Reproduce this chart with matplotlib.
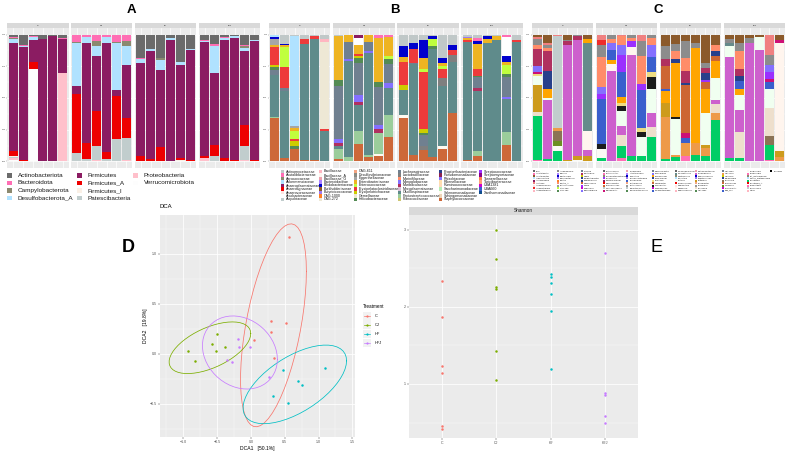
#!/usr/bin/env python3
"""Composite microbiome figure: relative-abundance bars at phylum (A), family (B)
and genus (C) level, a DCA ordination (D) and Shannon diversity (E)."""
import numpy as np
import matplotlib

matplotlib.use("Agg")
import matplotlib.pyplot as plt
from matplotlib.patches import Rectangle
from matplotlib.lines import Line2D

W, H = 787, 453
plt.rcParams["font.family"] = ["Liberation Sans", "DejaVu Sans"]

GROUPS = ["C", "CJ", "HF", "HFJ"]
GROUP_COLORS = ["#F8766D", "#7CAE00", "#00BFC4", "#C77CFF"]

# ---------------- A: phylum level (6 samples per group, order C, CJ, HF, HFJ)
PHYLA = ["Actinobacteriota", "Bacteroidota", "Campylobacterota", "Desulfobacterota_A",
         "Firmicutes", "Firmicutes_A", "Firmicutes_I", "Patescibacteria",
         "Proteobacteria", "Verrucomicrobiota"]
PHYLUM_COLORS = ["#6B6B6B", "#FF6EB4", "#8B8970", "#B0E2FF", "#8B1C62", "#EE0000",
                 "#FAF0E6", "#C1CDCD", "#FFC0CB", "#FDFDFD"]
PHYLUM_VALUES = {
    "Actinobacteriota": [0.02, 0.078, 0.008, 0.034, 0.01, 0.026, 0, 0, 0, 0, 0, 0,
                         0.182, 0.117, 0.187, 0.026, 0.216, 0.117, 0.039, 0.073, 0.018, 0.013, 0.078, 0.044],
    "Bacteroidota": [0.005, 0.008, 0.008, 0, 0, 0.008, 0.057, 0.02, 0.052, 0.016, 0.057, 0.052,
                     0.01, 0, 0, 0, 0, 0, 0.008, 0.018, 0.008, 0, 0.008, 0],
    "Campylobacterota": [0.008, 0, 0, 0, 0, 0, 0.01, 0, 0.039, 0, 0.01, 0.039,
                         0, 0, 0.013, 0, 0, 0, 0, 0, 0, 0, 0.023, 0],
    "Desulfobacterota_A": [0.036, 0.013, 0.026, 0, 0, 0, 0.34, 0.047, 0.078, 0.047, 0.37, 0.148,
                           0.029, 0.01, 0.078, 0.013, 0.026, 0.005, 0.01, 0.208, 0.018, 0.013, 0.021, 0.008],
    "Firmicutes": [0.844, 0.878, 0.174, 0.966, 0.985, 0.27, 0.06, 0.79, 0.434, 0.86, 0.05, 0.416,
                   0.735, 0.855, 0.605, 0.961, 0.727, 0.87, 0.90, 0.571, 0.927, 0.96, 0.584, 0.935],
    "Firmicutes_A": [0.04, 0.008, 0.052, 0, 0.005, 0, 0.468, 0.125, 0.275, 0.057, 0.34, 0.164,
                     0.044, 0.018, 0.117, 0, 0.018, 0.008, 0.018, 0.086, 0.029, 0.013, 0.164, 0.013],
    "Firmicutes_I": [0.01, 0, 0, 0, 0, 0, 0, 0, 0, 0, 0, 0,
                     0, 0, 0, 0, 0.01, 0, 0, 0, 0, 0, 0, 0],
    "Patescibacteria": [0.01, 0.005, 0, 0, 0, 0, 0.065, 0.018, 0.114, 0.02, 0.174, 0.169,
                        0, 0, 0, 0, 0, 0, 0, 0.044, 0, 0, 0.109, 0],
    "Proteobacteria": [0.01, 0, 0, 0, 0, 0.696, 0, 0, 0.008, 0, 0, 0.013,
                       0, 0, 0, 0, 0, 0, 0.026, 0, 0, 0, 0.013, 0],
    "Verrucomicrobiota": [0.013, 0, 0.73, 0, 0, 0, 0, 0, 0, 0, 0, 0,
                          0, 0, 0, 0, 0, 0, 0, 0, 0, 0, 0, 0],
}

# ---------------- B: family level
FAMILIES = ["Actinomycetaceae", "Acutalibacteraceae", "Aerococcaceae", "Akkermansiaceae",
            "Anaeroplasmataceae", "Anaerotignaceae", "Anaerovoracaceae", "Arcobacteraceae",
            "Atopobiaceae", "Bacillaceae", "Bacillaceae_A", "Bacillaceae_G", "Bacteroidaceae",
            "Bifidobacteriaceae", "Burkholderiaceae", "Butyricicoccaceae", "CAG-1000", "CAG-272",
            "CAG-611", "Desulfovibrionaceae", "Eggerthellaceae", "Enterobacteriaceae",
            "Enterococcaceae", "Erysipelatoclostridiaceae", "Erysipelotrichaceae", "Gemellaceae",
            "Helicobacteraceae", "Lachnospiraceae", "Lactobacillaceae", "Marinifilaceae",
            "Monoglobaceae", "Muribaculaceae", "Mycoplasmataceae", "Oscillospiraceae",
            "Peptostreptococcaceae", "Planococcaceae", "Propionibacteriaceae", "Pseudomonadaceae",
            "Rhizobiaceae", "Rikenellaceae", "Ruminococcaceae", "Saccharimonadaceae",
            "Selenomonadaceae", "Sphingomonadaceae", "Staphylococcaceae", "Streptococcaceae",
            "Streptomycetaceae", "Tannerellaceae", "Turicibacteraceae", "UBA1381", "UBA660",
            "Xanthomonadaceae"]
FAMILY_COLORS = ["#C0C8C8", "#FF6EB4", "#8B8970", "#B0E2FF", "#8B1C62", "#EE0000", "#FFE4E1",
                 "#FFFFFF", "#C1CDCD", "#FFB6C1", "#FFF5EE", "#EEA2AD", "#AB82FF", "#0000CD",
                 "#8B5A2B", "#9F79EE", "#FF7F24", "#EEE8D5", "#F4A582", "#8B8B83", "#A6A6A6",
                 "#EEB422", "#C0FF3E", "#EE3B3B", "#CDCD00", "#EEE8CD", "#548B54", "#708090",
                 "#7F7F7F", "#FF8C69", "#8470FF", "#B03060", "#D8BFD8", "#5F8B8B", "#9BCD9B",
                 "#CDC673", "#27408B", "#8B2252", "#836FFF", "#FFDEAD", "#FFDAB9", "#B4EEB4",
                 "#FFFAF0", "#EED5B7", "#CD6839", "#9B30FF", "#8B008B", "#FF7F50", "#FFA07A",
                 "#CD00CD", "#3A5FCD", "#104E8B"]
FAMILY_VALUES = {
    "Actinomycetaceae": [0, 0.07, 0.01, 0.034, 0.013, 0.034, 0.013, 0, 0, 0, 0, 0,
                         0.09, 0.065, 0.039, 0.013, 0.182, 0.083, 0.02, 0.026, 0.013, 0.013, 0, 0.04],
    "Acutalibacteraceae": [0, 0, 0, 0, 0, 0, 0, 0, 0, 0, 0.026, 0.018,
                           0, 0, 0, 0, 0, 0, 0, 0.021, 0, 0, 0.021, 0],
    "Akkermansiaceae": [0.02, 0, 0.71, 0, 0, 0, 0, 0, 0, 0, 0, 0,
                        0, 0, 0, 0, 0, 0, 0, 0, 0, 0, 0, 0],
    "Anaeroplasmataceae": [0, 0, 0, 0, 0, 0, 0, 0, 0.026, 0, 0, 0,
                           0, 0, 0, 0, 0, 0, 0, 0, 0, 0, 0, 0],
    "Arcobacteraceae": [0, 0, 0, 0, 0, 0, 0, 0, 0.052, 0, 0, 0,
                        0, 0, 0, 0, 0, 0, 0, 0, 0, 0, 0.143, 0],
    "Bacillaceae": [0, 0, 0, 0, 0, 0.023, 0, 0, 0, 0, 0, 0,
                    0, 0, 0, 0, 0, 0, 0, 0, 0, 0, 0, 0],
    "Bifidobacteriaceae": [0.01, 0.013, 0, 0, 0, 0, 0, 0, 0, 0, 0, 0,
                           0.09, 0.052, 0.148, 0.018, 0.039, 0.034, 0, 0.026, 0.021, 0, 0.052, 0],
    "Butyricicoccaceae": [0, 0, 0, 0, 0, 0, 0, 0, 0, 0, 0, 0,
                          0, 0, 0, 0, 0, 0, 0.01, 0, 0, 0, 0, 0],
    "CAG-272": [0, 0, 0, 0, 0, 0.69, 0, 0, 0, 0, 0, 0,
                0, 0, 0, 0, 0, 0, 0, 0, 0, 0, 0, 0],
    "Eggerthellaceae": [0.05, 0, 0.018, 0, 0, 0, 0, 0, 0, 0, 0, 0,
                        0, 0, 0, 0, 0, 0, 0, 0, 0, 0, 0, 0],
    "Enterobacteriaceae": [0.01, 0.018, 0.026, 0, 0, 0, 0.34, 0.057, 0.078, 0.057, 0.345, 0.15,
                           0.039, 0, 0.086, 0, 0.026, 0, 0.015, 0.195, 0.031, 0.026, 0.026, 0],
    "Enterococcaceae": [0, 0.156, 0.062, 0, 0, 0, 0, 0, 0, 0, 0, 0.026,
                        0, 0, 0.02, 0.06, 0.021, 0, 0, 0, 0, 0, 0.07, 0],
    "Erysipelatoclostridiaceae": [0.14, 0.16, 0.016, 0.036, 0.018, 0.013, 0, 0, 0.015, 0, 0, 0,
                                  0.18, 0.104, 0.455, 0, 0.07, 0.044, 0.01, 0.057, 0, 0, 0, 0.021],
    "Erysipelotrichaceae": [0.015, 0, 0.04, 0, 0, 0, 0, 0, 0.015, 0, 0, 0,
                            0.034, 0, 0.026, 0, 0, 0, 0, 0, 0, 0, 0, 0],
    "Helicobacteraceae": [0.02, 0, 0.018, 0, 0, 0, 0.05, 0, 0.039, 0, 0.039, 0.039,
                          0, 0, 0.018, 0.018, 0, 0, 0, 0.013, 0, 0, 0.021, 0],
    "Lachnospiraceae": [0.04, 0.026, 0, 0, 0, 0, 0.42, 0.13, 0.255, 0.073, 0.304, 0.15,
                        0, 0.013, 0.086, 0, 0, 0, 0, 0.083, 0, 0, 0.156, 0],
    "Lactobacillaceae": [0, 0, 0, 0, 0, 0, 0, 0, 0, 0, 0, 0,
                         0, 0, 0.031, 0, 0.065, 0.052, 0, 0, 0, 0, 0, 0],
    "Monoglobaceae": [0, 0, 0, 0, 0, 0, 0.026, 0.02, 0.052, 0.013, 0.034, 0.036,
                      0, 0, 0, 0, 0, 0, 0, 0, 0, 0, 0.013, 0],
    "Muribaculaceae": [0, 0, 0, 0, 0, 0, 0.03, 0, 0.026, 0, 0.031, 0,
                       0, 0, 0, 0, 0, 0, 0, 0.026, 0, 0, 0, 0],
    "Oscillospiraceae": [0.32, 0.53, 0, 0.92, 0.955, 0.24, 0.02, 0.75, 0.2, 0.805, 0, 0.215,
                         0.2, 0.714, 0, 0.85, 0.473, 0.4, 0.93, 0.475, 0.93, 0.953, 0.26, 0.93],
    "Peptostreptococcaceae": [0.01, 0, 0, 0, 0, 0, 0.08, 0.031, 0.104, 0.018, 0.161, 0.169,
                              0, 0, 0, 0, 0, 0, 0, 0.039, 0, 0, 0.104, 0],
    "Selenomonadaceae": [0, 0, 0, 0, 0, 0, 0, 0, 0, 0, 0.021, 0,
                         0.026, 0, 0, 0, 0.018, 0, 0, 0, 0, 0, 0, 0],
    "Staphylococcaceae": [0.325, 0.026, 0.1, 0.01, 0.013, 0, 0.018, 0, 0.138, 0.034, 0.039, 0.195,
                          0.34, 0.052, 0.091, 0.034, 0.099, 0.382, 0.008, 0.039, 0, 0, 0.13, 0],
}

# ---------------- C: genus level
GENERA = ["14-2", "Acetatifactor", "Acutalibacter", "Adlercreutzia", "Akkermansia", "Alistipes",
          "Anaeroplasma", "Anaerotignum", "Anaerotruncus", "Angelakisella", "Bacillus",
          "Bacteroides", "Bifidobacterium", "Blautia", "Blautia_A", "Butyricicoccus", "CAG-269",
          "CAG-485", "CAG-56", "Clostridium", "COE1", "Colidextribacter", "Coprobacillus",
          "Desulfovibrio", "Dorea", "Dubosiella", "Eisenbergiella", "Enterococcus",
          "Enterocloster", "Erysipelatoclostridium", "Escherichia", "Faecalibaculum",
          "Flavonifractor", "Frisingicoccus", "GCA-900066575", "Helicobacter", "Holdemania",
          "Intestinimonas", "Kineothrix", "Lachnoclostridium", "Lachnospira", "Lactobacillus",
          "Lactococcus", "Ligilactobacillus", "Limosilactobacillus", "Marvinbryantia",
          "Monoglobus", "Mucispirillum", "Muribaculum", "NK4A136", "Odoribacter", "Oscillibacter",
          "Paenibacillus", "Parabacteroides", "Paramuribaculum", "Parasutterella", "Peptococcus",
          "Prevotella", "Proteus", "Pseudomonas", "Romboutsia", "Roseburia", "Ruminococcus",
          "Ruthenibacterium", "Schaedlerella", "Staphylococcus", "Streptococcus", "Sutterella",
          "Turicibacter", "Tuzzerella", "Tyzzerella", "UBA1381", "UBA3263", "UBA7173", "UBA9475",
          "Ureaplasma", "Veillonella", "Vescimonas", "Weissella", "Xylanibacter", "Zag_111",
          "Zongyangia", "Zhenhengia", "gut_metagenome", "mouse_metagenome", "uncultured",
          "uncultured_A", "unidentified", "unclassified", "Other", "unknown"]
GENUS_PALETTE = ["#666666", "#FF6EB4", "#8B8970", "#B0E2FF", "#8B1C62", "#EE0000", "#FFE4E1",
                 "#C1CDCD", "#FFB6C1", "#EEA2AD", "#AB82FF", "#0000CD", "#9F79EE", "#FF7F24",
                 "#F4A582", "#999999", "#C0FF3E", "#548B54", "#708090", "#8470FF", "#CDCD00",
                 "#27408B", "#9BCD9B", "#CD6839", "#9B30FF", "#CD00CD", "#3A5FCD"]
GENUS_COLORS = {"Acutalibacter": "#8B5A2B", "Alistipes": "#F08080", "Anaerotignum": "#EE2C2C",
                "Angelakisella": "#8C8C8C", "Blautia_A": "#FF8C69", "Clostridium": "#B03060",
                "Coprobacillus": "#27408B", "Eisenbergiella": "#8470FF", "Escherichia": "#9B30FF",
                "Frisingicoccus": "#CD6633", "Helicobacter": "#CD1076", "Lachnospira": "#3A5FCD",
                "Ligilactobacillus": "#C1CDCD", "Mucispirillum": "#FFA500", "NK4A136": "#EEDC82",
                "Oscillibacter": "#1C1C1C", "Parasutterella": "#668B8B", "Proteus": "#F0FFF0",
                "Roseburia": "#FFF5EE", "Schaedlerella": "#CD60CD", "Sutterella": "#CD9B1D",
                "Tyzzerella": "#EEDFCC", "UBA7173": "#EE9A49", "Veillonella": "#8B7355",
                "Weissella": "#6B8E23", "Zongyangia": "#FAFAF5", "uncultured": "#00CD66",
                "unidentified": "#FF6EB4", "unknown": "#000000"}
GENUS_VALUES = {
    "Acutalibacter": [0.02, 0.068, 0, 0.039, 0, 0.034, 0, 0, 0, 0, 0, 0,
                      0.09, 0.073, 0.047, 0.065, 0.22, 0.078, 0.031, 0.065, 0.026, 0.018, 0, 0.039],
    "Alistipes": [0.016, 0.01, 0.01, 0, 0, 0, 0.039, 0, 0.013, 0, 0.052, 0,
                  0, 0, 0, 0, 0, 0, 0, 0, 0, 0, 0.156, 0],
    "Anaerotignum": [0, 0, 0, 0, 0, 0, 0.039, 0, 0, 0, 0, 0,
                     0, 0, 0, 0, 0, 0, 0, 0, 0, 0, 0, 0],
    "Angelakisella": [0.04, 0.026, 0, 0.013, 0.013, 0, 0.1, 0.034, 0, 0.026, 0.117, 0.026,
                      0.1, 0.057, 0.135, 0.039, 0.039, 0, 0.034, 0.065, 0.039, 0, 0.078, 0],
    "Blautia_A": [0.034, 0.026, 0, 0, 0, 0, 0.234, 0.031, 0.065, 0.026, 0.22, 0.052,
                  0, 0.065, 0.1, 0, 0, 0.052, 0, 0.143, 0, 0, 0, 0],
    "Clostridium": [0.13, 0.156, 0, 0.026, 0.026, 0, 0, 0, 0, 0, 0, 0,
                    0.052, 0, 0.1, 0, 0.039, 0, 0, 0.052, 0, 0, 0, 0],
    "Coprobacillus": [0, 0.143, 0, 0, 0, 0, 0, 0, 0, 0, 0, 0,
                      0, 0.026, 0.013, 0, 0.052, 0.039, 0, 0.044, 0, 0, 0, 0],
    "Eisenbergiella": [0.04, 0, 0, 0, 0, 0, 0.052, 0.052, 0.078, 0, 0, 0.1,
                       0, 0, 0, 0, 0, 0, 0, 0, 0, 0, 0.052, 0],
    "Escherichia": [0, 0, 0, 0, 0, 0, 0.044, 0, 0.137, 0.044, 0.052, 0,
                    0, 0, 0, 0, 0.018, 0, 0, 0, 0, 0, 0.052, 0],
    "Frisingicoccus": [0, 0, 0, 0, 0, 0, 0, 0, 0, 0, 0, 0,
                       0.174, 0, 0.377, 0, 0.052, 0.039, 0, 0, 0, 0, 0, 0],
    "Helicobacter": [0.02, 0, 0, 0, 0, 0, 0, 0, 0, 0, 0, 0,
                     0, 0, 0.039, 0, 0, 0, 0, 0, 0, 0, 0.026, 0.026],
    "Lachnospira": [0, 0, 0, 0, 0, 0, 0.35, 0.078, 0.187, 0, 0.3, 0.117,
                    0.021, 0, 0.039, 0, 0, 0, 0, 0.06, 0, 0, 0.057, 0],
    "Ligilactobacillus": [0, 0, 0.717, 0, 0, 0, 0, 0, 0, 0, 0, 0,
                          0, 0, 0, 0, 0, 0, 0, 0, 0, 0, 0, 0],
    "Mucispirillum": [0, 0.073, 0, 0, 0, 0.031, 0, 0.031, 0.05, 0, 0, 0,
                      0.09, 0.43, 0, 0.75, 0.19, 0.13, 0, 0.052, 0, 0, 0, 0],
    "NK4A136": [0.01, 0, 0, 0, 0, 0, 0, 0, 0.026, 0, 0.031, 0.039,
                0, 0, 0, 0, 0, 0, 0, 0, 0, 0, 0, 0],
    "Oscillibacter": [0, 0, 0, 0, 0, 0, 0.039, 0, 0.039, 0, 0.034, 0.091,
                      0, 0.021, 0, 0, 0, 0, 0, 0, 0, 0, 0, 0],
    "Parasutterella": [0, 0, 0, 0, 0, 0.69, 0, 0, 0, 0, 0, 0,
                       0, 0, 0, 0, 0, 0, 0.026, 0, 0, 0, 0, 0],
    "Proteus": [0.068, 0.013, 0, 0, 0, 0, 0, 0, 0.11, 0, 0.156, 0.195,
                0, 0.28, 0, 0, 0.247, 0.18, 0.085, 0.117, 0, 0.1, 0.143, 0],
    "Roseburia": [0, 0, 0, 0, 0, 0.143, 0, 0.06, 0, 0.06, 0, 0,
                  0, 0, 0, 0, 0, 0, 0, 0, 0, 0, 0, 0.857],
    "Schaedlerella": [0, 0.468, 0, 0.915, 0.92, 0.05, 0, 0.7, 0.07, 0.8, 0, 0.104,
                      0, 0, 0, 0, 0, 0.026, 0.8, 0.17, 0.935, 0.883, 0, 0],
    "Sutterella": [0.208, 0, 0, 0.008, 0.026, 0.04, 0, 0, 0, 0, 0, 0,
                   0.11, 0, 0, 0, 0.026, 0, 0, 0, 0, 0, 0, 0.044],
    "Tyzzerella": [0.026, 0, 0, 0, 0, 0, 0, 0, 0.09, 0, 0, 0.078,
                   0, 0, 0, 0, 0, 0.073, 0, 0.208, 0, 0, 0.213, 0],
    "UBA7173": [0, 0, 0.02, 0, 0, 0, 0, 0, 0, 0, 0, 0,
                0.32, 0.018, 0.104, 0.09, 0.065, 0.057, 0, 0, 0, 0, 0, 0.034],
    "Veillonella": [0, 0, 0.083, 0, 0, 0, 0, 0, 0, 0, 0, 0,
                    0, 0, 0, 0, 0, 0, 0, 0, 0, 0, 0.073, 0],
    "Weissella": [0, 0, 0.039, 0, 0, 0, 0, 0, 0, 0, 0, 0,
                  0, 0, 0, 0, 0, 0, 0, 0, 0, 0, 0, 0],
    "Zongyangia": [0, 0, 0.039, 0, 0.013, 0, 0.073, 0, 0, 0, 0, 0,
                   0, 0, 0, 0, 0, 0, 0, 0, 0, 0, 0, 0],
    "uncultured": [0.338, 0.018, 0.078, 0, 0, 0, 0.026, 0, 0.09, 0.039, 0.039, 0.195,
                   0.018, 0.034, 0, 0.052, 0.039, 0.325, 0.026, 0.026, 0, 0, 0.11, 0],
    "unidentified": [0.008, 0, 0, 0, 0, 0, 0, 0, 0.026, 0, 0, 0,
                     0, 0, 0.039, 0, 0, 0, 0, 0, 0, 0, 0.013, 0],
}

# ---------------- D: DCA site scores
DCA1 = {"C": [0.56, 0.30, 0.52, 0.30, 0.05, 0.34],
        "CJ": [-0.93, -0.82, -0.50, -0.58, -0.39, -0.52],
        "HF": [1.09, 0.47, 0.69, 0.75, 0.32, 0.55],
        "HFJ": [-0.19, -0.18, -0.02, -0.35, -0.28, 0.27]}
DCA2 = {"C": [1.17, 0.33, 0.31, 0.22, 0.14, -0.04],
        "CJ": [0.03, -0.07, 0.20, 0.10, 0.07, 0.03],
        "HF": [-0.14, -0.16, -0.27, -0.31, -0.42, -0.49],
        "HFJ": [0.15, 0.07, 0.07, -0.06, -0.08, -0.23]}

# ---------------- E: Shannon index
SHANNON = {"C": [2.33, 1.87, 1.23, 1.14, 0.45, 0.42],
           "CJ": [2.99, 2.62, 2.26, 2.23, 1.43, 1.05],
           "HF": [2.43, 2.39, 2.31, 2.17, 1.94, 1.20],
           "HFJ": [2.70, 0.88, 0.86, 0.58, 0.50]}

GRID = "white"
PANEL_BG = "#EBEBEB"
STRIP_BG = "#D9D9D9"
TICK_TXT = "#4D4D4D"


def add_px(fig, x0, y0, x1, y1):
    return fig.add_axes([x0 / W, 1 - y1 / H, (x1 - x0) / W, (y1 - y0) / H])


def fig_rect(fig, x, y, w, h, color, **kw):
    fig.add_artist(Rectangle((x / W, 1 - (y + h) / H), w / W, h / H,
                             transform=fig.transFigure, facecolor=color, **kw))


def fig_text(fig, x, y, s, **kw):
    fig.text(x / W, 1 - y / H, s, **kw)


def strip(fig, x0, y0, x1, y1, label, size):
    ax = add_px(fig, x0, y0, x1, y1)
    ax.set_facecolor(STRIP_BG)
    ax.set_xticks([])
    ax.set_yticks([])
    for s in ax.spines.values():
        s.set_visible(False)
    ax.text(0.5, 0.5, label, fontsize=size, color="#1A1A1A", ha="center", va="center",
            transform=ax.transAxes)


def stacked_facets(fig, names, colors, values, panels):
    for g, (x0, x1) in enumerate(panels):
        strip(fig, x0, 22.7, x1, 28.3, GROUPS[g], 1.6)
        ax = add_px(fig, x0, 28.3, x1, 167.7)
        ax.set_facecolor(PANEL_BG)
        xs = np.arange(1, 7)
        block = np.array([values.get(n, [0] * 24)[6 * g:6 * g + 6] for n in names], float)
        block = block / block.sum(axis=0)
        top = np.ones(6)
        for c, row in zip(colors, block):
            if row.sum() == 0:
                continue
            ax.bar(xs, row, bottom=top - row, width=0.9, color=c, linewidth=0)
            top = top - row
        ax.set_xlim(0.4, 6.6)
        ax.set_ylim(-0.05, 1.05)
        ax.set_xticks(xs)
        ax.set_yticks([0, 0.25, 0.5, 0.75, 1.0])
        ax.set_yticks([0.125, 0.375, 0.625, 0.875], minor=True)
        ax.grid(True, which="major", color=GRID, linewidth=0.5)
        ax.grid(True, which="minor", axis="y", color=GRID, linewidth=0.25)
        ax.set_axisbelow(True)
        for s in ax.spines.values():
            s.set_visible(False)
        ax.tick_params(axis="x", length=0, labelbottom=False)
        ax.tick_params(axis="y", which="minor", length=0)
        if g == 0:
            ax.set_yticklabels(["0.00", "0.25", "0.50", "0.75", "1.00"])
            ax.tick_params(axis="y", length=0.8, width=0.2, color="#333333", pad=0.4,
                           labelsize=1.5, labelcolor=TICK_TXT)
        else:
            ax.tick_params(axis="y", length=0, labelleft=False)


def legend_grid(fig, names, colors, nrow, col_x, y0, dy, sq, gap, size):
    for i, (n, c) in enumerate(zip(names, colors)):
        col, row = divmod(i, nrow)
        x = col_x[col]
        y = y0 + row * dy
        fig_rect(fig, x, y - sq / 2, sq, sq, c, edgecolor="none")
        fig_text(fig, x + sq + gap, y, n, fontsize=size, color="#1A1A1A", va="center")


def cov_trob(pts, nu=5, maxit=25, tol=0.01):
    # multivariate t estimate, as MASS::cov.trob (used by stat_ellipse)
    n, p = pts.shape
    wt = np.ones(n)
    loc = pts.mean(axis=0)
    w = np.sqrt(wt)
    for _ in range(maxit):
        w0 = w
        X = pts - loc
        _, d, vt = np.linalg.svd(np.sqrt(w / w.sum())[:, None] * X, full_matrices=False)
        wX = X @ vt.T @ np.diag(1 / d)
        Q = (wX ** 2).sum(axis=1)
        w = wt * (nu + p) / (nu + Q)
        loc = (w[:, None] * pts).sum(axis=0) / w.sum()
        if np.all(np.abs(w - w0) < tol):
            break
    sX = np.sqrt(w)[:, None] * X
    return loc, sX.T @ sX / wt.sum()


def ellipse_path(x, y, level_f=5.786135):
    pts = np.column_stack([x, y])
    center, shape = cov_trob(pts)
    R = np.linalg.cholesky(shape).T
    radius = np.sqrt(2 * level_f)
    t = np.linspace(0, 2 * np.pi, 52)
    circle = np.column_stack([np.cos(t), np.sin(t)])
    e = center + radius * circle @ R
    return e[:, 0], e[:, 1]


def style_axes(ax):
    ax.set_facecolor(PANEL_BG)
    for s in ax.spines.values():
        s.set_visible(False)
    ax.set_axisbelow(True)
    ax.grid(True, which="major", color=GRID, linewidth=0.55)
    ax.grid(True, which="minor", color=GRID, linewidth=0.25)
    ax.tick_params(which="major", length=1.2, width=0.3, color="#333333", pad=0.8,
                   labelsize=2.6, labelcolor=TICK_TXT)
    ax.tick_params(which="minor", length=0)


def main():
    fig = plt.figure(figsize=(W / 100, H / 100), dpi=100)

    # ---- bar panels
    stacked_facets(fig, PHYLA, PHYLUM_COLORS, PHYLUM_VALUES,
                   [(7.3, 68.7), (71, 132.3), (134.7, 196.3), (199, 260.3)])
    stacked_facets(fig, FAMILIES, FAMILY_COLORS, FAMILY_VALUES,
                   [(269, 330.3), (333, 394.7), (397.3, 458.7), (461.3, 522.7)])
    genus_colors = [GENUS_COLORS.get(n, GENUS_PALETTE[i % len(GENUS_PALETTE)])
                    for i, n in enumerate(GENERA)]
    stacked_facets(fig, GENERA, genus_colors, GENUS_VALUES,
                   [(531.7, 593.3), (595.7, 657.3), (659.7, 721.3), (724, 785.3)])

    for letter, x in [("A", 131.7), ("B", 395), ("C", 658)]:
        fig_text(fig, x, 10, letter, fontsize=9.5, fontweight="bold", ha="center", va="center")

    legend_grid(fig, PHYLA, PHYLUM_COLORS, 4, [7.3, 77.3, 133.3], 175.3, 7.6, 4.6, 6, 4.6)
    legend_grid(fig, FAMILIES, FAMILY_COLORS, 9, [281, 319, 354.3, 398, 439.3, 479.3],
                171.5, 3.5, 3.0, 1.8, 2.6)
    legend_grid(fig, GENERA, genus_colors, 9,
                [533, 557, 581, 602.7, 626.3, 652, 675, 695, 721.7, 747, 770.3],
                171.2, 2.42, 2.0, 1.2, 1.6)

    # ---- D: DCA
    ax = add_px(fig, 160, 215, 355, 437.3)
    for g, c in zip(GROUPS, GROUP_COLORS):
        ex, ey = ellipse_path(DCA1[g], DCA2[g])
        ax.plot(ex, ey, color=c, linewidth=0.55)
        ax.scatter(DCA1[g], DCA2[g], s=3.2, color=c, linewidths=0, zorder=3)
    ax.set_xlim(-1.345, 1.54)
    ax.set_ylim(-0.836, 1.39)
    ax.set_xticks([-1.0, -0.5, 0.0, 0.5, 1.0, 1.5])
    ax.set_xticks([-1.25, -0.75, -0.25, 0.25, 0.75, 1.25], minor=True)
    ax.set_yticks([-0.5, 0.0, 0.5, 1.0])
    ax.set_yticks([-0.75, -0.25, 0.25, 0.75, 1.25], minor=True)
    style_axes(ax)
    ax.set_xlabel("DCA1   [50.1%]", fontsize=3.6, labelpad=1.5)
    ax.set_ylabel("DCA2   [19.8%]", fontsize=3.6, labelpad=1.5)
    fig_text(fig, 160, 207, "DCA", fontsize=4.3, va="center")
    fig_text(fig, 128, 248, "D", fontsize=13, fontweight="bold", ha="center", va="center")

    # legend for D
    fig_text(fig, 362.5, 306, "Treatment", fontsize=3.3, va="center")
    for i, (g, c) in enumerate(zip(GROUPS, GROUP_COLORS)):
        yc = 316.3 + i * 8.8
        fig_rect(fig, 362.5, yc - 4.2, 8.4, 8.4, "#F2F2F2", edgecolor="none")
        fig.add_artist(Line2D([363.5 / W, 370 / W], [1 - yc / H] * 2, color=c,
                              linewidth=0.5, transform=fig.transFigure))
        fig.add_artist(Line2D([366.7 / W], [1 - yc / H], color=c, marker="o",
                              markersize=1.6, markeredgewidth=0, transform=fig.transFigure))
        fig_text(fig, 374.5, yc, g, fontsize=2.8, va="center")

    # ---- E: Shannon
    strip(fig, 409, 207, 638, 215, "Shannon", 3.4)
    ax = add_px(fig, 409, 215, 638, 438)
    for i, (g, c) in enumerate(zip(GROUPS, GROUP_COLORS)):
        ax.scatter(np.full(len(SHANNON[g]), i + 1), SHANNON[g], s=3.2, color=c,
                   linewidths=0, zorder=3)
    ax.set_xlim(0.4, 4.6)
    ax.set_ylim(0.30, 3.19)
    ax.set_xticks([1, 2, 3, 4])
    ax.set_xticklabels(GROUPS)
    ax.set_yticks([1, 2, 3])
    ax.set_yticks([0.5, 1.5, 2.5], minor=True)
    style_axes(ax)
    ax.grid(False, which="minor", axis="x")
    fig_text(fig, 656, 248, "E", fontsize=13, ha="center", va="center")

    fig.savefig("out.png", dpi=100)
    plt.close(fig)


if __name__ == "__main__":
    main()
